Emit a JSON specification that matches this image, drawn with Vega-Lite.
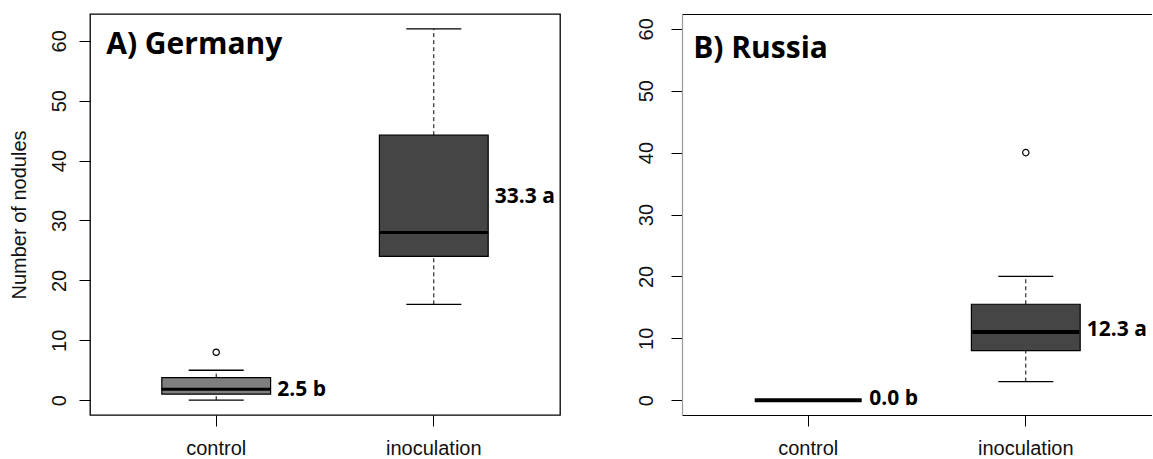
{
  "$schema": "https://vega.github.io/schema/vega-lite/v6.json",
  "padding": {"left": 8, "top": 13, "right": 0, "bottom": 0},
  "spacing": 75,
  "datasets": {
    "boxes": [
      {"country": "Germany", "treatment": "control", "lower": 0, "q1": 1, "median": 1.8, "q3": 3.75, "upper": 5},
      {"country": "Germany", "treatment": "inoculation", "lower": 16, "q1": 24, "median": 28, "q3": 44.25, "upper": 62},
      {"country": "Russia", "treatment": "control", "lower": 0, "q1": 0, "median": 0, "q3": 0, "upper": 0},
      {"country": "Russia", "treatment": "inoculation", "lower": 3, "q1": 8, "median": 11, "q3": 15.5, "upper": 20}
    ],
    "outliers": [
      {"country": "Germany", "treatment": "control", "value": 8},
      {"country": "Russia", "treatment": "inoculation", "value": 40}
    ],
    "labels": [
      {"country": "Germany", "treatment": "control", "label": "2.5 b", "y": 1.7},
      {"country": "Germany", "treatment": "inoculation", "label": "33.3 a", "y": 34.0},
      {"country": "Russia", "treatment": "control", "label": "0.0 b", "y": 0.25},
      {"country": "Russia", "treatment": "inoculation", "label": "12.3 a", "y": 11.4}
    ],
    "panels": [
      {"country": "Germany", "title": "A) Germany", "treatment": "control", "y": 57.8},
      {"country": "Russia", "title": "B) Russia", "treatment": "control", "y": 55.3}
    ]
  },
  "config": {
    "font": "Liberation Sans",
    "axis": {
      "labelFont": "Liberation Sans",
      "labelFontSize": 20,
      "labelColor": "#111111",
      "titleFont": "Liberation Sans",
      "titleFontSize": 20,
      "titleFontWeight": "normal",
      "titleColor": "#111111",
      "tickColor": "black",
      "tickSize": 11,
      "tickWidth": 1,
      "grid": false,
      "domainColor": "black",
      "domainWidth": 1.2
    }
  },
  "hconcat": [
    {
      "width": 470,
      "height": 401,
      "view": {"stroke": "black", "strokeWidth": 1.3},
      "encoding": {
        "x": {
          "field": "treatment", "type": "nominal", "title": null,
          "scale": {"domain": ["control", "inoculation"], "paddingInner": 0.5, "paddingOuter": 0.33},
          "axis": {"labelAngle": 0, "labelPadding": 12, "domain": false, "labelBaseline": "top"}
        }
      },
      "layer": [
        {
          "data": {"name": "boxes"},
          "transform": [{"filter": "datum.country === 'Germany'"}],
          "mark": {"type": "rule", "strokeDash": [4, 3], "color": "black", "strokeWidth": 1},
          "encoding": {
            "y": {"field": "q3", "type": "quantitative", "title": "Number of nodules",
              "scale": {"domain": [-2.48, 64.48], "nice": false, "zero": false},
              "axis": {"values": [0, 10, 20, 30, 40, 50, 60], "labelAngle": -90, "labelAlign": "center", "labelBaseline": "bottom", "labelPadding": 10, "titlePadding": 20, "domain": false}},
            "y2": {"field": "upper"}
          }
        },
        {
          "data": {"name": "boxes"},
          "transform": [{"filter": "datum.country === 'Germany'"}],
          "mark": {"type": "rule", "strokeDash": [4, 3], "color": "black", "strokeWidth": 1},
          "encoding": {
            "y": {"field": "lower", "type": "quantitative", "title": "Number of nodules"},
            "y2": {"field": "q1"}
          }
        },
        {
          "data": {"name": "boxes"},
          "transform": [{"filter": "datum.country === 'Germany'"}],
          "mark": {"type": "tick", "color": "black", "size": 55, "thickness": 1.4, "opacity": 1},
          "encoding": {
            "y": {"field": "upper", "type": "quantitative", "title": "Number of nodules"}
          }
        },
        {
          "data": {"name": "boxes"},
          "transform": [{"filter": "datum.country === 'Germany'"}],
          "mark": {"type": "tick", "color": "black", "size": 55, "thickness": 1.4, "opacity": 1},
          "encoding": {
            "y": {"field": "lower", "type": "quantitative", "title": "Number of nodules"}
          }
        },
        {
          "data": {"name": "boxes"},
          "transform": [{"filter": "datum.country === 'Germany'"}],
          "mark": {"type": "bar", "stroke": "black", "strokeWidth": 1.2, "fillOpacity": 1, "opacity": 1},
          "encoding": {
            "y": {"field": "q1", "type": "quantitative", "title": "Number of nodules"},
            "y2": {"field": "q3"},
            "color": {"field": "treatment", "type": "nominal", "scale": {"domain": ["control", "inoculation"], "range": ["#7f7f7f", "#454545"]}, "legend": null}
          }
        },
        {
          "data": {"name": "boxes"},
          "transform": [{"filter": "datum.country === 'Germany'"}],
          "mark": {"type": "tick", "color": "black", "size": 109, "thickness": 3, "opacity": 1},
          "encoding": {
            "y": {"field": "median", "type": "quantitative", "title": "Number of nodules"}
          }
        },
        {
          "data": {"name": "outliers"},
          "transform": [{"filter": "datum.country === 'Germany'"}],
          "mark": {"type": "point", "shape": "circle", "filled": false, "stroke": "black", "strokeWidth": 1.2, "size": 40, "opacity": 1},
          "encoding": {
            "y": {"field": "value", "type": "quantitative", "title": "Number of nodules"}
          }
        },
        {
          "data": {"name": "labels"},
          "transform": [{"filter": "datum.country === 'Germany'"}],
          "mark": {"type": "text", "align": "left", "baseline": "middle", "dx": 61, "font": "Open Sans", "fontWeight": "bold", "fontSize": 21, "color": "black"},
          "encoding": {
            "y": {"field": "y", "type": "quantitative", "title": "Number of nodules"},
            "text": {"field": "label"}
          }
        },
        {
          "data": {"name": "panels"},
          "transform": [{"filter": "datum.country === 'Germany'"}],
          "mark": {"type": "text", "align": "left", "baseline": "alphabetic", "dx": -110, "font": "Open Sans", "fontWeight": "bold", "fontSize": 30, "color": "black"},
          "encoding": {
            "y": {"field": "y", "type": "quantitative", "title": "Number of nodules"},
            "text": {"field": "title"}
          }
        }
      ]
    },
    {
      "width": 470,
      "height": 401,
      "view": {"stroke": null},
      "resolve": {"axis": {"x": "independent"}},
      "layer": [
        {
          "data": {"name": "boxes"},
          "transform": [{"filter": "datum.country === 'Russia'"}],
          "mark": {"type": "rule", "strokeDash": [4, 3], "color": "black", "strokeWidth": 1},
          "encoding": {
            "x": {"field": "treatment", "type": "nominal", "scale": {"domain": ["control", "inoculation"], "paddingInner": 0.5, "paddingOuter": 0.33}, "title": null,
              "axis": {"orient": "top", "labels": false, "ticks": false, "domain": true, "title": null}},
            "y": {"field": "q3", "type": "quantitative", "title": null,
              "scale": {"domain": [-2.4, 62.4], "nice": false, "zero": false},
              "axis": {"values": [0, 10, 20, 30, 40, 50, 60], "labelAngle": -90, "labelAlign": "center", "labelBaseline": "bottom", "labelPadding": 15, "domain": true, "domainColor": "#999999"}},
            "y2": {"field": "upper"}
          }
        },
        {
          "data": {"name": "boxes"},
          "transform": [{"filter": "datum.country === 'Russia'"}],
          "mark": {"type": "rule", "strokeDash": [4, 3], "color": "black", "strokeWidth": 1},
          "encoding": {
            "x": {"field": "treatment", "type": "nominal", "axis": null},
            "y": {"field": "lower", "type": "quantitative", "title": null},
            "y2": {"field": "q1"}
          }
        },
        {
          "data": {"name": "boxes"},
          "transform": [{"filter": "datum.country === 'Russia' && datum.treatment === 'inoculation'"}],
          "mark": {"type": "tick", "color": "black", "size": 55, "thickness": 1.4, "opacity": 1},
          "encoding": {
            "x": {"field": "treatment", "type": "nominal", "axis": null},
            "y": {"field": "upper", "type": "quantitative", "title": null}
          }
        },
        {
          "data": {"name": "boxes"},
          "transform": [{"filter": "datum.country === 'Russia' && datum.treatment === 'inoculation'"}],
          "mark": {"type": "tick", "color": "black", "size": 55, "thickness": 1.4, "opacity": 1},
          "encoding": {
            "x": {"field": "treatment", "type": "nominal", "axis": null},
            "y": {"field": "lower", "type": "quantitative", "title": null}
          }
        },
        {
          "data": {"name": "boxes"},
          "transform": [{"filter": "datum.country === 'Russia' && datum.treatment === 'inoculation'"}],
          "mark": {"type": "bar", "stroke": "black", "strokeWidth": 1.2, "fillOpacity": 1, "opacity": 1},
          "encoding": {
            "x": {
              "field": "treatment", "type": "nominal", "title": null,
              "axis": {"labelAngle": 0, "labelPadding": 12, "domain": true, "labelBaseline": "top"}
            },
            "y": {"field": "q1", "type": "quantitative", "title": null},
            "y2": {"field": "q3"},
            "color": {"field": "treatment", "type": "nominal", "scale": {"domain": ["control", "inoculation"], "range": ["#7f7f7f", "#333333"]}, "legend": null}
          }
        },
        {
          "data": {"name": "boxes"},
          "transform": [{"filter": "datum.country === 'Russia'"}],
          "mark": {"type": "tick", "color": "black", "size": 107, "thickness": 4, "opacity": 1},
          "encoding": {
            "x": {"field": "treatment", "type": "nominal", "axis": null},
            "y": {"field": "median", "type": "quantitative", "title": null}
          }
        },
        {
          "data": {"name": "outliers"},
          "transform": [{"filter": "datum.country === 'Russia'"}],
          "mark": {"type": "point", "shape": "circle", "filled": false, "stroke": "black", "strokeWidth": 1.2, "size": 40, "opacity": 1},
          "encoding": {
            "x": {"field": "treatment", "type": "nominal", "axis": null},
            "y": {"field": "value", "type": "quantitative", "title": null}
          }
        },
        {
          "data": {"name": "labels"},
          "transform": [{"filter": "datum.country === 'Russia'"}],
          "mark": {"type": "text", "align": "left", "baseline": "middle", "dx": 61, "font": "Open Sans", "fontWeight": "bold", "fontSize": 21, "color": "black"},
          "encoding": {
            "x": {"field": "treatment", "type": "nominal", "axis": null},
            "y": {"field": "y", "type": "quantitative", "title": null},
            "text": {"field": "label"}
          }
        },
        {
          "data": {"name": "panels"},
          "transform": [{"filter": "datum.country === 'Russia'"}],
          "mark": {"type": "text", "align": "left", "baseline": "alphabetic", "dx": -115, "font": "Open Sans", "fontWeight": "bold", "fontSize": 30, "color": "black"},
          "encoding": {
            "x": {"field": "treatment", "type": "nominal", "axis": null},
            "y": {"field": "y", "type": "quantitative", "title": null},
            "text": {"field": "title"}
          }
        }
      ]
    }
  ]
}
